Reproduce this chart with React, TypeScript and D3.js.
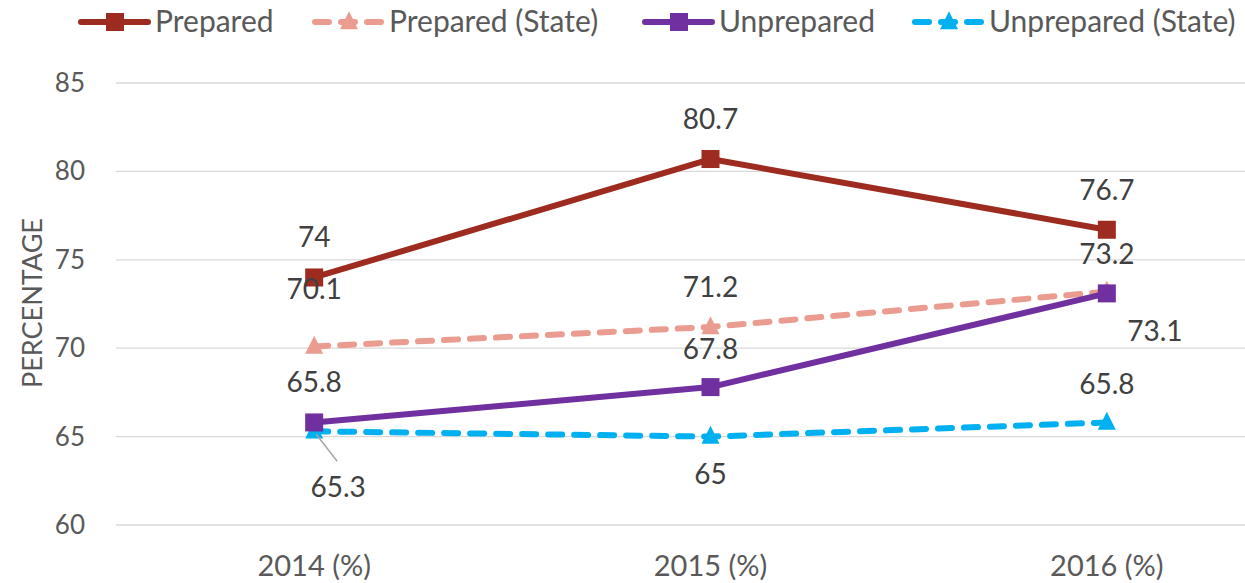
import React, { useRef, useEffect } from 'react';
import * as d3 from 'd3';

const years = ['2014 (%)', '2015 (%)', '2016 (%)'];
const prepared = [74, 80.7, 76.7];
const preparedState = [70.1, 71.2, 73.2];
const unprepared = [65.8, 67.8, 73.1];
const unpreparedState = [65.3, 65, 65.8];
const yTicks = [60, 65, 70, 75, 80, 85];

// label placement per point: [dx, dy] offsets from the marker
const seriesDefs = [
  { name: 'Prepared', values: prepared, color: '#9E2B1F', dashed: false, marker: 'square',
    offsets: [[0, -40], [0, -40], [0, -40]] },
  { name: 'Prepared (State)', values: preparedState, color: '#EB9C90', dashed: true, marker: 'triangle',
    offsets: [[0, -57], [0, -40], [0, -38]] },
  { name: 'Unprepared', values: unprepared, color: '#7030A0', dashed: false, marker: 'square',
    offsets: [[0, -40], [0, -38], [48, 38]] },
  { name: 'Unprepared (State)', values: unpreparedState, color: '#00B0F0', dashed: true, marker: 'triangle',
    offsets: [[24, 56], [0, 37], [0, -38]] },
];

const legendPos = [78, 312, 642, 912];

const App: React.FC = () => {
  const svgRef = useRef<SVGSVGElement | null>(null);

  useEffect(() => {
    if (!svgRef.current) return;
    const svg = d3.select(svgRef.current);
    svg.selectAll('*').remove();

    const width = 1245;
    const height = 583;
    const font = 'Lato, "Open Sans", sans-serif';
    const textColor = '#595959';

    const x = d3.scaleBand<string>().domain(years).range([116, 1305]);
    const y = d3.scaleLinear().domain([60, 85]).range([525, 83]);
    const cx = (i: number) => (x(years[i]) as number) + x.bandwidth() / 2;

    svg.attr('width', width).attr('height', height);

    // gridlines
    svg.append('g')
      .selectAll('line')
      .data(yTicks)
      .join('line')
      .attr('x1', 116)
      .attr('x2', width)
      .attr('y1', d => y(d))
      .attr('y2', d => y(d))
      .attr('stroke', '#d9d9d9')
      .attr('stroke-width', 1.3);

    // y tick labels
    svg.append('g')
      .selectAll('text')
      .data(yTicks)
      .join('text')
      .attr('x', 85)
      .attr('y', d => y(d) + 9)
      .attr('text-anchor', 'end')
      .attr('font-family', font)
      .attr('font-size', 26)
      .attr('fill', textColor)
      .text(d => d);

    // x labels
    svg.append('g')
      .selectAll('text')
      .data(years)
      .join('text')
      .attr('x', (d, i) => cx(i))
      .attr('y', 576)
      .attr('text-anchor', 'middle')
      .attr('font-family', font)
      .attr('font-size', 29)
      .attr('fill', textColor)
      .text(d => d);

    // y axis title
    svg.append('text')
      .attr('transform', `translate(42,${303}) rotate(-90)`)
      .attr('text-anchor', 'middle')
      .attr('font-family', font)
      .attr('font-size', 27)
      .attr('fill', textColor)
      .text('PERCENTAGE');

    const drawMarker = (g: any, type: string, px: number, py: number, color: string) => {
      if (type === 'square') {
        g.append('rect')
          .attr('x', px - 9)
          .attr('y', py - 9)
          .attr('width', 18)
          .attr('height', 18)
          .attr('fill', color);
      } else {
        const s = 18;
        g.append('path')
          .attr('d', `M${px},${py - s * 0.6}L${px + s / 2},${py + s * 0.4}L${px - s / 2},${py + s * 0.4}Z`)
          .attr('fill', color);
      }
    };

    const line = d3.line<number>()
      .x((d, i) => cx(i))
      .y(d => y(d));

    // lines (state series drawn first, so solid lines sit on top like in the original)
    const order = [1, 3, 0, 2];
    order.forEach(si => {
      const s = seriesDefs[si];
      svg.append('path')
        .attr('d', line(s.values))
        .attr('fill', 'none')
        .attr('stroke', s.color)
        .attr('stroke-width', 6)
        .attr('stroke-linecap', 'round')
        .attr('stroke-linejoin', 'round')
        .attr('stroke-dasharray', s.dashed ? '14 12' : null);
    });

    // markers
    order.forEach(si => {
      const s = seriesDefs[si];
      const g = svg.append('g');
      s.values.forEach((v, i) => drawMarker(g, s.marker, cx(i), y(v), s.color));
    });

    // leader line for 65.3
    svg.append('line')
      .attr('x1', cx(0) + 2)
      .attr('y1', y(unpreparedState[0]) + 3)
      .attr('x2', cx(0) + 23)
      .attr('y2', y(unpreparedState[0]) + 30)
      .attr('stroke', '#a6a6a6')
      .attr('stroke-width', 1.5);

    // data labels
    seriesDefs.forEach(s => {
      s.values.forEach((v, i) => {
        const [dx, dy] = s.offsets[i];
        svg.append('text')
          .attr('x', cx(i) + dx)
          .attr('y', y(v) + dy + 10)
          .attr('text-anchor', 'middle')
          .attr('font-family', font)
          .attr('font-size', 28)
          .attr('fill', '#404040')
          .text(v);
      });
    });

    // legend
    seriesDefs.forEach((s, i) => {
      const lx = legendPos[i];
      const ly = 22;
      const g = svg.append('g');
      g.append('line')
        .attr('x1', lx + 3)
        .attr('x2', lx + 70)
        .attr('y1', ly)
        .attr('y2', ly)
        .attr('stroke', s.color)
        .attr('stroke-width', 6)
        .attr('stroke-linecap', 'round')
        .attr('stroke-dasharray', s.dashed ? '14 12' : null);
      drawMarker(g, s.marker, lx + 37, ly, s.color);
      g.append('text')
        .attr('x', lx + 77)
        .attr('y', ly + 10)
        .attr('font-family', font)
        .attr('font-size', 30)
        .attr('fill', textColor)
        .text(s.name);
    });
  }, []);

  return (
    <svg ref={svgRef} style={{ position: 'absolute', left: 0, top: 0 }}></svg>
  );
};

export default App;
